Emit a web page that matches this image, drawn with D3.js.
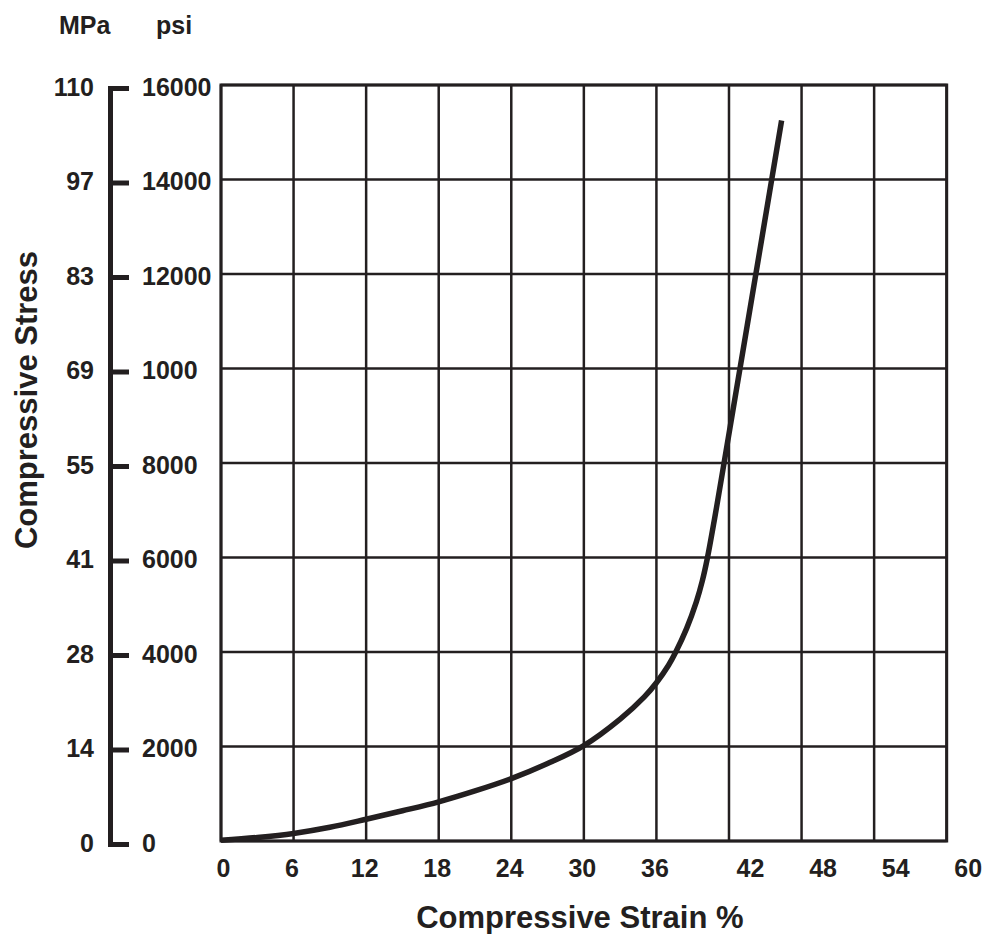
<!DOCTYPE html>
<html lang="en">
<head>
<meta charset="UTF-8">
<script src="https://cdn.jsdelivr.net/npm/d3@7"></script>
<title>Compressive stress vs strain</title>
<style>
  body { margin: 0; background: #fff; }
  svg text { font-family: "Liberation Sans", Arial, Helvetica, sans-serif; font-weight: bold; fill: #231f20; }
  .tick text { font-size: 25px; }
  .grid line { stroke: #231f20; stroke-width: 2.5; }
</style>
</head>
<body>
<div id="chart"></div>
<script>
// data
var strain = [0, 3, 6, 9, 12, 15, 18, 21, 24, 27, 30, 33, 35, 36, 37, 37.6, 38.5, 39.3, 39.8, 40.2, 40.8, 41.5, 43.5, 46.35];
var stress = [15, 75, 160, 290, 460, 640, 830, 1060, 1320, 1640, 2020, 2580, 3050, 3350, 3720, 4000, 4500, 5060, 5510, 5970, 6810, 7860, 10900, 15250];

var xTicks = [0, 6, 12, 18, 24, 30, 36, 42, 48, 54, 60];
var psiTicks = [0, 2000, 4000, 6000, 8000, 10000, 12000, 14000, 16000];
var psiLabels = ["0", "2000", "4000", "6000", "8000", "1000", "12000", "14000", "16000"];
var mpaLabels = ["0", "14", "28", "41", "55", "69", "83", "97", "110"];

var W = 985, H = 934;
var margin = {top: 85, left: 221, right: 38.3, bottom: 93};
var width = W - margin.left - margin.right;
var height = H - margin.top - margin.bottom;
var ink = "#231f20";

var svg = d3.select("#chart").append("svg")
    .attr("width", W)
    .attr("height", H);

var x = d3.scaleLinear().domain([0, 60]).range([margin.left, margin.left + width]);
var y = d3.scaleLinear().domain([0, 16000]).range([margin.top + height, margin.top]);

// grid
var grid = svg.append("g").attr("class", "grid");
grid.selectAll(".vline")
    .data(xTicks)
    .enter().append("line")
    .attr("x1", d => x(d)).attr("x2", d => x(d))
    .attr("y1", y(16000)).attr("y2", y(0));
grid.selectAll(".hline")
    .data(psiTicks)
    .enter().append("line")
    .attr("x1", x(0)).attr("x2", x(60))
    .attr("y1", d => y(d)).attr("y2", d => y(d));

svg.append("rect")
    .attr("x", x(0)).attr("y", y(16000))
    .attr("width", x(60) - x(0)).attr("height", y(0) - y(16000))
    .attr("fill", "none").attr("stroke", ink).attr("stroke-width", 3);

// curve
var pts = strain.map((s, i) => [s, stress[i]]);
var line = d3.line()
    .x(d => x(d[0]))
    .y(d => y(d[1]))
    .curve(d3.curveCatmullRom.alpha(0.5));
svg.append("path")
    .datum(pts)
    .attr("d", line)
    .attr("fill", "none")
    .attr("stroke", ink)
    .attr("stroke-width", 5.5)
    .attr("stroke-linecap", "butt");

// x axis labels
var xAxis = d3.axisBottom(x).tickValues(xTicks).tickSize(0).tickPadding(18);
var gx = svg.append("g")
    .attr("transform", "translate(0," + y(0) + ")")
    .call(xAxis);
gx.select(".domain").remove();
gx.selectAll(".tick text").attr("dx", d => d >= 42 ? 21 : (d == 0 ? 2 : -2));

// psi labels
var psiAxis = d3.axisRight(y).tickValues(psiTicks).tickSize(0).tickPadding(0)
    .tickFormat((d, i) => psiLabels[i]);
var gp = svg.append("g")
    .attr("transform", "translate(142,2)")
    .call(psiAxis);
gp.select(".domain").remove();

// MPa bracket axis
var mpaAxis = d3.axisLeft(y).tickValues(psiTicks)
    .tickSizeInner(-19).tickSizeOuter(-19).tickPadding(16)
    .tickFormat((d, i) => mpaLabels[i]);
var gm = svg.append("g")
    .attr("transform", "translate(110,3)")
    .call(mpaAxis);
gm.selectAll("path, line").attr("stroke", ink).attr("stroke-width", 5);
gm.selectAll(".tick text").attr("dy", "0.28em");

// unit headers
svg.append("text").attr("x", 59).attr("y", 34).style("font-size", "25px").text("MPa");
svg.append("text").attr("x", 156).attr("y", 34).style("font-size", "25px").text("psi");

// axis titles
svg.append("text")
    .attr("x", (x(0) + x(60)) / 2 - 4)
    .attr("y", 928)
    .attr("text-anchor", "middle")
    .style("font-size", "31px")
    .text("Compressive Strain %");

svg.append("text")
    .attr("transform", "translate(37,400) rotate(-90)")
    .attr("text-anchor", "middle")
    .style("font-size", "31px")
    .text("Compressive Stress");
</script>
</body>
</html>
